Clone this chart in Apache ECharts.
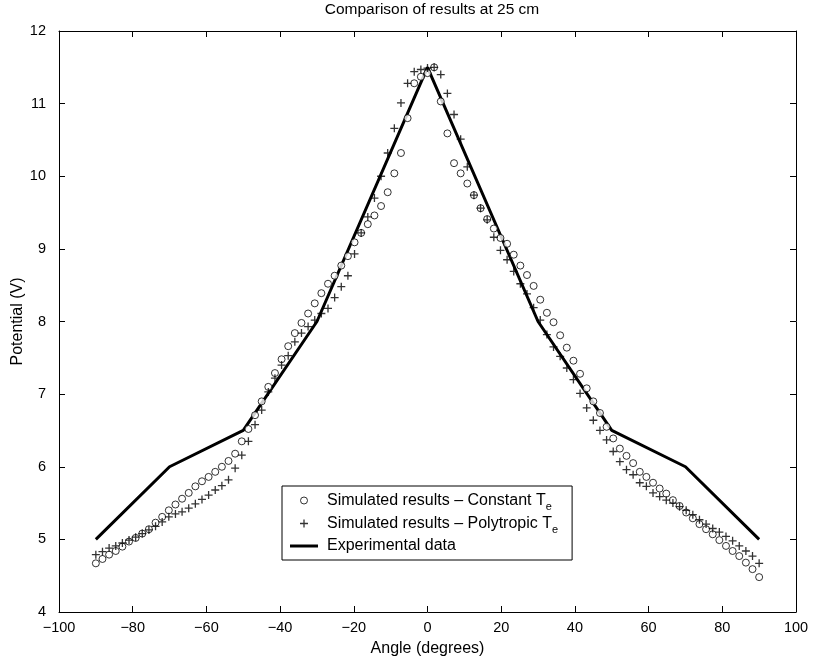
<!DOCTYPE html>
<html>
<head>
<meta charset="utf-8">
<script src="https://cdn.jsdelivr.net/npm/echarts@6/dist/echarts.min.js"></script>
<style>
  html, body { margin: 0; padding: 0; background: #fff; }
  #main { width: 814px; height: 662px; }
</style>
</head>
<body>
<div id="main"></div>
<script>
// simulated angles (degrees)
const simAngle = [
  -90, -88.2, -86.4, -84.6, -82.8, -81, -79.2, -77.4, -75.6, -73.8,
  -72, -70.2, -68.4, -66.6, -64.8, -63, -61.2, -59.4, -57.6, -55.8,
  -54, -52.2, -50.4, -48.6, -46.8, -45, -43.2, -41.4, -39.6, -37.8,
  -36, -34.2, -32.4, -30.6, -28.8, -27, -25.2, -23.4, -21.6, -19.8,
  -18, -16.2, -14.4, -12.6, -10.8, -9, -7.2, -5.4, -3.6, -1.8,
  0, 1.8, 3.6, 5.4, 7.2, 9, 10.8, 12.6, 14.4, 16.2,
  18, 19.8, 21.6, 23.4, 25.2, 27, 28.8, 30.6, 32.4, 34.2,
  36, 37.8, 39.6, 41.4, 43.2, 45, 46.8, 48.6, 50.4, 52.2,
  54, 55.8, 57.6, 59.4, 61.2, 63, 64.8, 66.6, 68.4, 70.2,
  72, 73.8, 75.6, 77.4, 79.2, 81, 82.8, 84.6, 86.4, 88.2,
  90
];
// constant Te (circles)
const constantTe = [
  4.67, 4.73, 4.79, 4.84, 4.90, 4.97, 5.02, 5.08, 5.14, 5.23,
  5.31, 5.40, 5.48, 5.56, 5.64, 5.73, 5.80, 5.86, 5.93, 6.00,
  6.08, 6.18, 6.35, 6.52, 6.71, 6.90, 7.10, 7.29, 7.48, 7.66,
  7.84, 7.98, 8.11, 8.25, 8.39, 8.52, 8.63, 8.77, 8.90, 9.09,
  9.22, 9.34, 9.46, 9.59, 9.78, 10.04, 10.32, 10.80, 11.28, 11.37,
  11.42, 11.50, 11.03, 10.59, 10.18, 10.04, 9.90, 9.74, 9.56, 9.41,
  9.28, 9.15, 9.07, 8.92, 8.77, 8.64, 8.49, 8.30, 8.12, 7.99,
  7.81, 7.64, 7.46, 7.28, 7.08, 6.90, 6.74, 6.55, 6.39, 6.25,
  6.15, 6.05, 5.93, 5.86, 5.78, 5.70, 5.63, 5.54, 5.46, 5.37,
  5.29, 5.21, 5.14, 5.07, 4.99, 4.91, 4.84, 4.77, 4.68, 4.59,
  4.48
];
// polytropic Te (plus)
const polytropicTe = [
  4.79, 4.83, 4.88, 4.91, 4.95, 4.99, 5.03, 5.08, 5.13, 5.18,
  5.24, 5.31, 5.35, 5.38, 5.43, 5.49, 5.55, 5.61, 5.68, 5.74,
  5.82, 5.98, 6.16, 6.35, 6.58, 6.78, 7.03, 7.22, 7.40, 7.53,
  7.72, 7.84, 7.93, 8.02, 8.11, 8.18, 8.33, 8.48, 8.63, 8.93,
  9.22, 9.44, 9.70, 10.00, 10.32, 10.66, 11.01, 11.28, 11.44, 11.47,
  11.49, 11.50, 11.40, 11.14, 10.85, 10.51, 10.13, 9.74, 9.56, 9.40,
  9.16, 8.98, 8.85, 8.69, 8.52, 8.38, 8.19, 8.02, 7.82, 7.65,
  7.52, 7.36, 7.20, 7.01, 6.81, 6.64, 6.50, 6.37, 6.21, 6.07,
  5.96, 5.89, 5.78, 5.73, 5.64, 5.59, 5.54, 5.50, 5.45, 5.40,
  5.34, 5.27, 5.21, 5.15, 5.10, 5.04, 4.98, 4.91, 4.84, 4.77,
  4.67
];
// experimental data
const expAngle = [-90, -70, -50, -30, 0, 30, 50, 70, 90];
const expValue = [5, 6, 6.5, 8, 11.5, 8, 6.5, 6, 5];

const xTickLabels = ['\u2212100', '\u221280', '\u221260', '\u221240', '\u221220', '0', '20', '40', '60', '80', '100'];
const yTickLabels = ['4', '5', '6', '7', '8', '9', '10', '11', '12'];

const font = 'Liberation Sans, Arial, Helvetica, sans-serif';
const plusPath = 'path://M0,5L10,5M5,0L5,10';
// legend icons, padded to a 14x14 box so they stay small
const legendCircle = 'path://M0,0M14,14M7,3.5A3.5,3.5,0,1,1,7,10.5A3.5,3.5,0,1,1,7,3.5Z';
const legendPlus = 'path://M0,0M14,14M3,7L11,7M7,3L7,11';
const legendLine = 'path://M0,0H28V3H0Z';

function pairs(xs, ys) {
  return xs.map((x, i) => [x, ys[i]]);
}

let chartDom = document.getElementById('main');
let myChart = echarts.init(chartDom, null, { renderer: 'canvas' });

const xBase = { type: 'value', min: -100, max: 100, interval: 20 };
const yBase = { type: 'value', min: 4, max: 12, interval: 1 };
const axLine = { show: true, onZero: false, lineStyle: { color: '#000', width: 1 } };
const axTick = { show: true, inside: true, length: 6, lineStyle: { color: '#000', width: 1 } };

let option = {
  backgroundColor: '#fff',
  animation: false,
  title: {
    text: 'Comparison of results at 25 cm',
    left: 427,
    textAlign: 'center',
    top: -3,
    textStyle: { fontFamily: font, fontSize: 15.5, fontWeight: 'normal', color: '#000' }
  },
  grid: { left: 59, right: 18, top: 31, bottom: 50, containLabel: false, outerBoundsMode: 'none' },
  legend: {
    orient: 'vertical',
    left: 282,
    top: 486,
    padding: [3, 14, 3, 8],
    itemWidth: 28,
    itemHeight: 14,
    itemGap: 0,
    borderColor: '#000',
    borderWidth: 1,
    backgroundColor: '#fff',
    textStyle: {
      fontFamily: font, fontSize: 16, color: '#000', lineHeight: 22, padding: [0, 0, 0, 4],
      rich: { sub: { fontFamily: font, fontSize: 11, color: '#000', lineHeight: 10, padding: [12, 0, 0, 0] } }
    },
    formatter: name => name.replace(/ Te$/, ' T{sub|e}'),
    data: [
      { name: 'Simulated results \u2013 Constant Te', icon: legendCircle, itemStyle: { color: '#fff', borderColor: '#000', borderWidth: 1 } },
      { name: 'Simulated results \u2013 Polytropic Te', icon: legendPlus, itemStyle: { color: '#000', borderColor: '#000', borderWidth: 1.3 } },
      { name: 'Experimental data', icon: legendLine, itemStyle: { color: '#000' } }
    ]
  },
  xAxis: [
    Object.assign({}, xBase, {
      position: 'bottom',
      name: 'Angle (degrees)',
      nameLocation: 'middle',
      nameGap: 29,
      nameMoveOverlap: false,
      nameTextStyle: { fontFamily: font, fontSize: 16, color: '#000' },
      axisLine: axLine, axisTick: axTick, splitLine: { show: false },
      axisLabel: {
        fontFamily: font, fontSize: 14.5, color: '#000', margin: 8,
        formatter: v => xTickLabels[Math.round((v + 100) / 20)]
      }
    }),
    Object.assign({}, xBase, {
      position: 'top', axisLine: axLine, axisTick: axTick,
      axisLabel: { show: false }, splitLine: { show: false }
    })
  ],
  yAxis: [
    Object.assign({}, yBase, {
      position: 'left',
      name: 'Potential (V)',
      nameLocation: 'middle',
      nameGap: 33,
      nameMoveOverlap: false,
      nameTextStyle: { fontFamily: font, fontSize: 16, color: '#000' },
      axisLine: axLine, axisTick: axTick, splitLine: { show: false },
      axisLabel: {
        fontFamily: font, fontSize: 14.5, color: '#000', margin: 13,
        formatter: v => yTickLabels[Math.round(v - 4)]
      }
    }),
    Object.assign({}, yBase, {
      position: 'right', axisLine: axLine, axisTick: axTick,
      axisLabel: { show: false }, splitLine: { show: false }
    })
  ],
  series: [
    {
      name: 'Simulated results \u2013 Constant Te',
      type: 'scatter',
      data: pairs(simAngle, constantTe),
      symbol: 'circle',
      symbolSize: 7,
      itemStyle: { color: '#fff', borderColor: '#000', borderWidth: 1 },
      z: 3
    },
    {
      name: 'Simulated results \u2013 Polytropic Te',
      type: 'scatter',
      data: pairs(simAngle, polytropicTe),
      symbol: plusPath,
      symbolSize: 8,
      itemStyle: { color: '#000', borderColor: '#000', borderWidth: 1.3 },
      z: 4
    },
    {
      name: 'Experimental data',
      type: 'line',
      data: pairs(expAngle, expValue),
      showSymbol: false,
      symbol: 'none',
      lineStyle: { color: '#000', width: 3 },
      itemStyle: { color: '#000' },
      z: 2
    }
  ]
};

option && myChart.setOption(option);
</script>
</body>
</html>
